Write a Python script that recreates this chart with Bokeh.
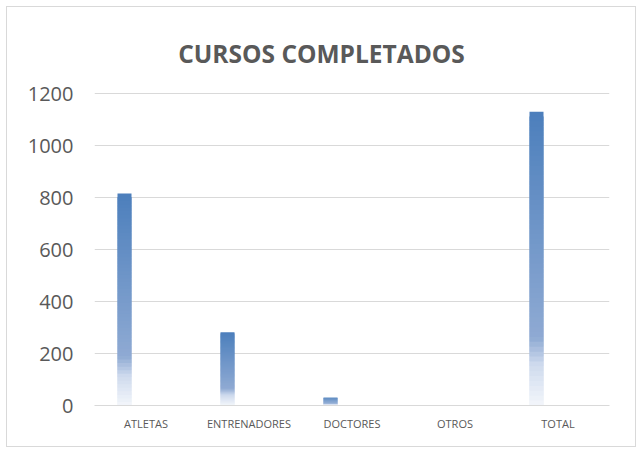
from bokeh.plotting import figure
from bokeh.models import ColumnDataSource, FactorRange, Range1d, FixedTicker
from bokeh.core.properties import value
from bokeh.transform import dodge
from bokeh.embed import file_html
from bokeh.resources import INLINE

categories = ["ATLETAS", "ENTRENADORES", "DOCTORES", "OTROS", "TOTAL"]
values = [815, 282, 30, 0, 1130]
y_ticks = [0, 200, 400, 600, 800, 1000, 1200]
title_text = "CURSOS COMPLETADOS"

# gradient stops (fraction from top of bar, rgb)
stops = [(0.0, (76, 127, 188)), (0.77, (143, 170, 211)), (0.86, (206, 218, 237)), (1.0, (243, 246, 251))]
N = 60

def color_at(t):
    for (t0, c0), (t1, c1) in zip(stops[:-1], stops[1:]):
        if t0 <= t <= t1:
            f = (t - t0) / (t1 - t0) if t1 > t0 else 0
            c = tuple(int(round(a + (b - a) * f)) for a, b in zip(c0, c1))
            return "#%02x%02x%02x" % c
    return "#%02x%02x%02x" % stops[-1][1]

xs, tops, bottoms, colors = [], [], [], []
for cat, v in zip(categories, values):
    if v <= 0:
        continue
    for i in range(N):
        t0 = i / N
        t2 = min(1.0, (i + 2) / N)
        xs.append(cat)
        tops.append(v * (1 - t0))
        bottoms.append(v * (1 - t2))
        colors.append(color_at(t0 + 0.5 / N))

src = ColumnDataSource(dict(x=xs, top=tops, bottom=bottoms, color=colors))

W, H = 630, 441
FL, FB, FT = 87, 43, 10
# frame spans canvas y FT..H-FB; the 1200 gridline sits at canvas y 86
top_px = 86
ymax = max(y_ticks)
y_end = ymax * (H - FB - FT) / (H - FB - top_px)

p = figure(x_range=FactorRange(*categories), y_range=Range1d(0, y_end),
           width=W, height=H, output_backend="svg", toolbar_location=None,
           min_border_left=FL, min_border_right=28, min_border_top=FT, min_border_bottom=FB)
p.title.visible = False
p.styles = {"border": "1px solid #d9d9d9", "margin-left": "6px", "margin-top": "6px"}
p.outline_line_color = None
p.background_fill_color = "white"
p.border_fill_color = "white"

p.vbar(x=dodge("x", -21.5 / 103, range=p.x_range), top="top", bottom="bottom", width=14 / 103,
       fill_color="color", line_color=None, source=src)

# chart title, drawn inside the (extended) frame above the 1200 gridline
title_x = (314 - FL) / 103
title_y = ymax * (H - FB - 46) / (H - FB - top_px)
p.text(x=[title_x], y=[title_y], text=[title_text], text_align="center",
       text_baseline="alphabetic", text_font=value("Open Sans"), text_font_size="24.5px",
       text_font_style="bold", text_color="#595959")

p.xgrid.grid_line_color = None
p.ygrid.grid_line_color = "#d9d9d9"
p.ygrid.grid_line_width = 1
p.yaxis.ticker = FixedTicker(ticks=y_ticks)
p.yaxis.axis_line_color = None
p.yaxis.major_tick_line_color = None
p.yaxis.minor_tick_line_color = None
p.yaxis.major_label_text_font = "Open Sans"
p.yaxis.major_label_text_font_size = "20px"
p.yaxis.major_label_text_color = "#595959"
p.yaxis.major_label_standoff = 15

p.xaxis.axis_line_color = "#d9d9d9"
p.xaxis.axis_line_width = 1
p.xaxis.major_tick_line_color = None
p.xaxis.minor_tick_line_color = None
p.xaxis.major_label_text_font = "Open Sans"
p.xaxis.major_label_text_font_size = "11px"
p.xaxis.major_label_text_color = "#595959"
p.xaxis.major_label_standoff = 4
p.x_range.range_padding = 0
p.x_range.group_padding = 0

open("out.html", "w").write(file_html(p, INLINE))
